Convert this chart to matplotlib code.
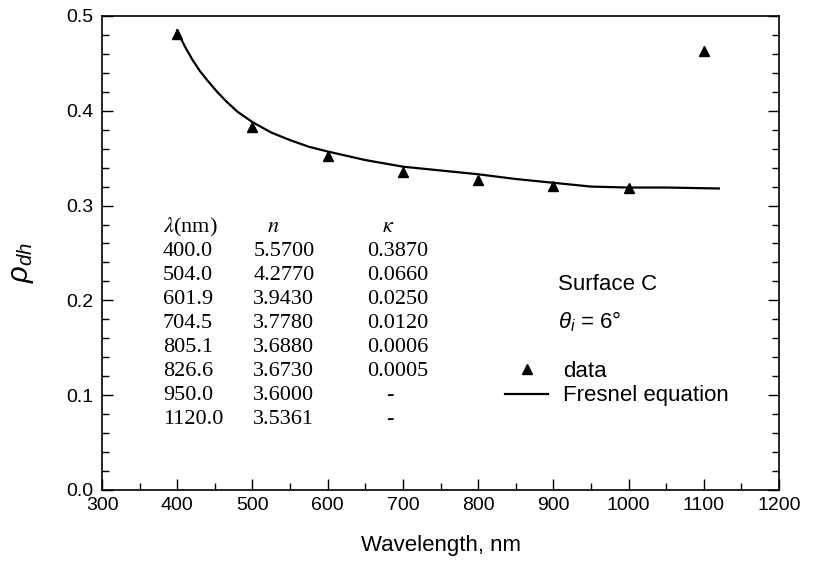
import matplotlib
matplotlib.use("Agg")
import matplotlib.pyplot as plt
from matplotlib.ticker import MultipleLocator

# ---- data ----
data_wl = [400, 500, 600, 700, 800, 900, 1000, 1100]
data_rho = [0.481, 0.383, 0.352, 0.335, 0.327, 0.321, 0.318, 0.463]

fres_wl = [400, 405, 410, 420, 430, 440, 453, 465, 480, 500, 525, 550, 575, 600,
           650, 700, 750, 800, 850, 900, 950, 1000, 1050, 1120]
fres_rho = [0.485, 0.476, 0.468, 0.454, 0.442, 0.432, 0.420, 0.410, 0.399, 0.388,
            0.377, 0.369, 0.362, 0.357, 0.348, 0.341, 0.337, 0.333, 0.328, 0.324,
            0.320, 0.319, 0.319, 0.318]

tab_lambda = ["400.0", "504.0", "601.9", "704.5", "805.1", "826.6", "950.0", "1120.0"]
tab_n = ["5.5700", "4.2770", "3.9430", "3.7780", "3.6880", "3.6730", "3.6000", "3.5361"]
tab_k = ["0.3870", "0.0660", "0.0250", "0.0120", "0.0006", "0.0005", "-", "-"]

x_ticks = [300, 400, 500, 600, 700, 800, 900, 1000, 1100, 1200]
y_ticks = [0.0, 0.1, 0.2, 0.3, 0.4, 0.5]

plt.rcParams['font.family'] = ['Liberation Sans', 'DejaVu Sans']
plt.rcParams['mathtext.fontset'] = 'custom'
plt.rcParams['mathtext.it'] = 'Liberation Sans:italic'
plt.rcParams['mathtext.rm'] = 'Liberation Sans'

fig = plt.figure(figsize=(8.13, 5.63), dpi=100)
ax = fig.add_axes([0.1255, 0.1297, 0.8327, 0.842])

ax.plot(fres_wl, fres_rho, color='black', lw=1.6, label='Fresnel equation')
ax.plot(data_wl, data_rho, linestyle='none', marker='^', color='black',
        markersize=7.5, label='data')

ax.set_xlim(300, 1200)
ax.set_ylim(0.0, 0.5)
ax.set_xticks(x_ticks)
ax.set_yticks(y_ticks)
ax.set_yticklabels([f"{v:.1f}" for v in y_ticks])
ax.xaxis.set_minor_locator(MultipleLocator(50))
ax.yaxis.set_minor_locator(MultipleLocator(0.02))
ax.tick_params(axis='both', which='both', direction='in', labelsize=14,
               right=True, top=False)
ax.tick_params(which='major', length=8, width=1)
ax.tick_params(which='minor', length=5, width=1)
ax.tick_params(axis='x', pad=5)
ax.tick_params(axis='y', pad=6)
for s in ax.spines.values():
    s.set_linewidth(1.2)

ax.set_xlabel('Wavelength, nm', fontsize=16)
ax.xaxis.set_label_coords(0.5, -0.094)
ax.set_ylabel(r'$\rho_{dh}$', fontsize=21)
ax.yaxis.set_label_coords(-0.098, 0.48)

# table
serif = ['Liberation Serif', 'DejaVu Serif']
fs_tab = 16
y0 = 0.277
dy = 0.0253
ax.text(381, y0, r'$\lambda$(nm)', fontsize=fs_tab, family=serif, va='center', ha='left',
        math_fontfamily='stix')
ax.text(527, y0, r'$n$', fontsize=fs_tab, family=serif, va='center', ha='center',
        math_fontfamily='stix')
ax.text(680, y0, r'$\kappa$', fontsize=fs_tab, family=serif, va='center', ha='center',
        math_fontfamily='stix')
for i in range(len(tab_lambda)):
    yy = y0 - (i + 1) * dy
    ax.text(381, yy, tab_lambda[i], fontsize=fs_tab, family=serif,
            va='center', ha='left')
    ax.text(501, yy, tab_n[i], fontsize=fs_tab, family=serif, va='center', ha='left')
    if tab_k[i] == '-':
        ax.text(683, yy, tab_k[i], fontsize=fs_tab, family=serif, va='center', ha='center')
    else:
        ax.text(652, yy, tab_k[i], fontsize=fs_tab, family=serif, va='center', ha='left')

ax.text(906, 0.217, 'Surface C', fontsize=16, va='center', ha='left')
ax.text(906, 0.177, r'$\theta_i$ = 6°', fontsize=16, va='center', ha='left')

handles, labels = ax.get_legend_handles_labels()
leg = ax.legend(handles[::-1], labels[::-1], loc='upper left',
                bbox_to_anchor=(0.595, 0.272), frameon=False, fontsize=16,
                handlelength=1.95, handletextpad=0.68, borderpad=0, borderaxespad=0,
                labelspacing=0.15)

fig.savefig('out.png', dpi=100)
